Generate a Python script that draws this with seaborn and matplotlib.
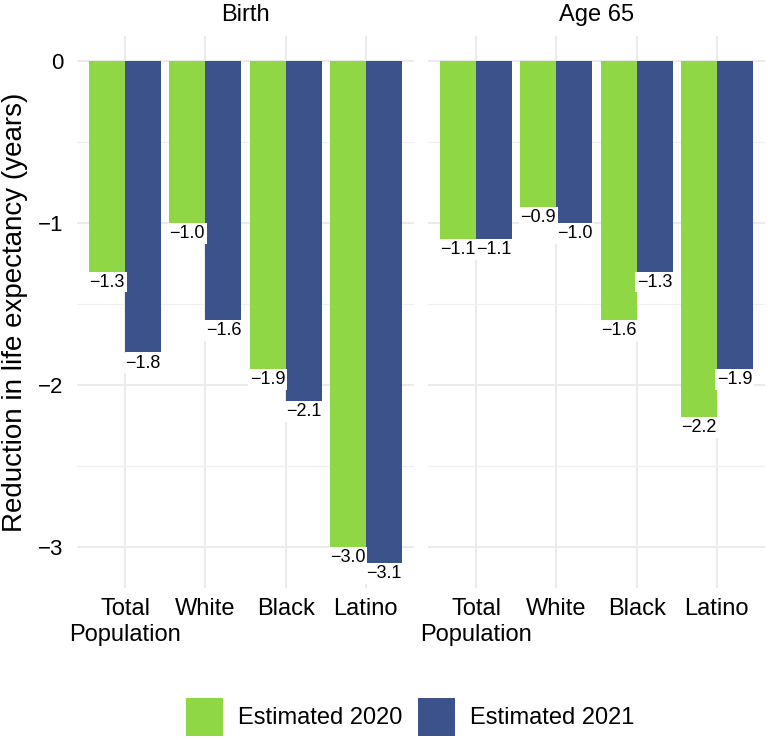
import matplotlib
matplotlib.use("Agg")
import pandas as pd
import matplotlib.pyplot as plt
import seaborn as sns
from matplotlib.patches import Patch
from matplotlib.ticker import MultipleLocator

sns.set_theme(style="white")
plt.rcParams['font.family'] = ['Liberation Sans', 'DejaVu Sans']
plt.rcParams.update({
    'text.color': 'black',
    'xtick.color': 'black',
    'ytick.color': 'black',
    'axes.labelcolor': 'black',
})

# data
panels = ["Birth", "Age 65"]
groups = ["Total\nPopulation", "White", "Black", "Latino"]
series = ["Estimated 2020", "Estimated 2021"]
birth_2020 = [-1.3, -1.0, -1.9, -3.0]
birth_2021 = [-1.8, -1.6, -2.1, -3.1]
age65_2020 = [-1.1, -0.9, -1.6, -2.2]
age65_2021 = [-1.1, -1.0, -1.3, -1.9]

colors = {"Estimated 2020": "#8FD744", "Estimated 2021": "#3B528B"}

rows = []
for panel, v20, v21 in [("Birth", birth_2020, birth_2021), ("Age 65", age65_2020, age65_2021)]:
    for g, a, b in zip(groups, v20, v21):
        rows.append({"panel": panel, "group": g, "series": "Estimated 2020", "value": a})
        rows.append({"panel": panel, "group": g, "series": "Estimated 2021", "value": b})
df = pd.DataFrame(rows)

fig = plt.figure(figsize=(7.68, 7.40), dpi=100)
bottom = 1 - 588 / 740
height = 552 / 740
ax_left = fig.add_axes([77 / 768, bottom, 337 / 768, height])
ax_right = fig.add_axes([428 / 768, bottom, 337 / 768, height])

for ax, panel in zip([ax_left, ax_right], panels):
    sub = df[df["panel"] == panel]
    sns.barplot(data=sub, x="group", y="value", hue="series", order=groups,
                hue_order=series, palette=colors, saturation=1, width=0.9, gap=0,
                linewidth=0, errorbar=None, legend=False, ax=ax)
    for container in ax.containers:
        labels = [f"{v:.1f}".replace("-", "\u2212") for v in container.datavalues]
        ax.bar_label(container, labels=labels, padding=1.5, fontsize=13, color="black",
                     bbox=dict(boxstyle="square,pad=0.1", fc="white", ec="none"))
    ax.set_xlim(-0.6, 3.6)
    ax.set_ylim(-3.255, 0.155)
    ax.yaxis.set_major_locator(MultipleLocator(1))
    ax.yaxis.set_minor_locator(MultipleLocator(0.5))
    ax.grid(which="major", axis="both", color="#EBEBEB", lw=1.5)
    ax.grid(which="minor", axis="y", color="#F0F0F0", lw=0.9)
    ax.set_axisbelow(True)
    for s in ax.spines.values():
        s.set_visible(False)
    ax.tick_params(axis="both", which="both", length=0)
    ax.tick_params(axis="x", labelsize=17, pad=7.5)
    ax.tick_params(axis="y", labelsize=16, pad=10)
    ax.set_xlabel("")
    ax.set_ylabel("")
    ax.set_title(panel, fontsize=17, pad=11)

ax_right.tick_params(axis="y", labelleft=False)

fig.text(15 / 768, 1 - 312 / 740, "Reduction in life expectancy (years)",
         rotation=90, fontsize=20, ha="center", va="center")

handles = [Patch(facecolor=colors[s], edgecolor="none", label=s) for s in series]
fig.legend(handles=handles, loc="center", bbox_to_anchor=(410 / 768, 1 - 717 / 740),
           ncol=2, frameon=False, fontsize=17, handlelength=1.57, handleheight=2.04,
           handletextpad=0.64, columnspacing=0.64, borderpad=0, borderaxespad=0)

fig.savefig("out.png", dpi=100)
